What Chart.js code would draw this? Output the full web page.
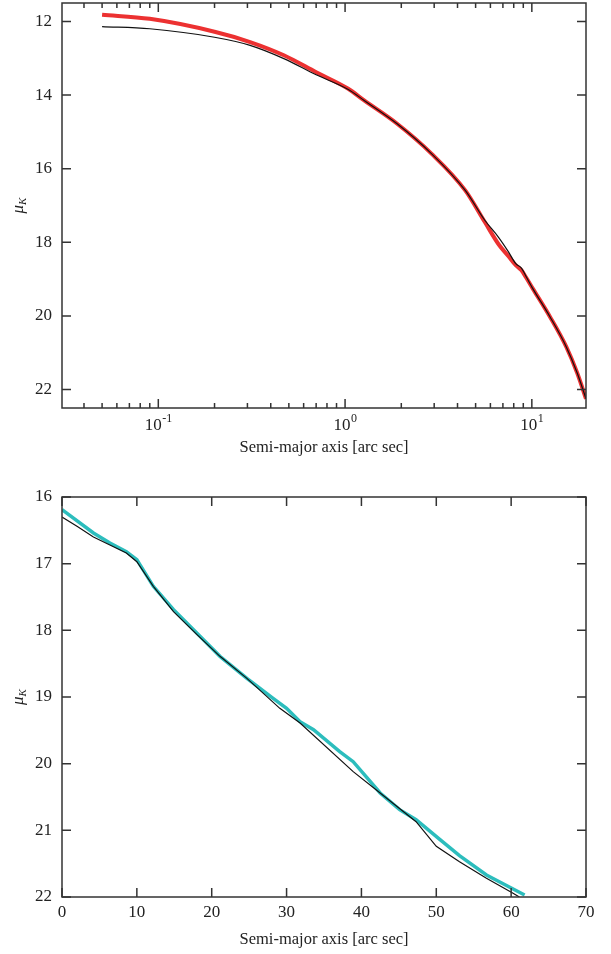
<!DOCTYPE html>
<html>
<head>
<meta charset="utf-8">
<script src="https://cdn.jsdelivr.net/npm/chart.js@4.4.0/dist/chart.umd.min.js"></script>
<style>
  body { margin: 0; background: #fff; }
  .box { position: absolute; left: 0; width: 611px; }
</style>
</head>
<body>
<div class="box" style="top:0;height:470px"><canvas id="topChart"></canvas></div>
<div class="box" style="top:470px;height:484px"><canvas id="bottomChart"></canvas></div>
<script>
// top panel: log radius, observed (red) and model (black)
const topRadius = [0.05, 0.09, 0.2, 0.31, 0.47, 0.7, 1.04, 1.26, 1.9, 2.9, 4.4, 5.6, 6.65, 7.5, 8.2, 8.8, 9.3, 10.1, 12.5, 15.3, 17.5, 19.5];
const topObserved = [11.82, 11.93, 12.28, 12.56, 12.92, 13.38, 13.83, 14.14, 14.78, 15.59, 16.59, 17.45, 18.06, 18.38, 18.62, 18.76, 18.95, 19.25, 20.02, 20.84, 21.55, 22.25];
const topModel = [12.14, 12.2, 12.43, 12.65, 13.01, 13.45, 13.85, 14.14, 14.78, 15.59, 16.59, 17.4, 17.87, 18.26, 18.58, 18.7, 18.92, 19.25, 20.02, 20.84, 21.55, 22.25];

// bottom panel: linear radius, observed (cyan) and model (black)
const botRadiusObs = [0, 4.2, 6.4, 8.6, 10, 12.2, 14.9, 18, 21.1, 24.7, 28.2, 30, 31.8, 33.6, 37.1, 38.9, 42.5, 45.1, 47.3, 50.5, 53.1, 56.7, 61.8];
const botObserved = [16.19, 16.54, 16.69, 16.82, 16.94, 17.34, 17.69, 18.04, 18.39, 18.72, 19.02, 19.17, 19.37, 19.49, 19.82, 19.97, 20.44, 20.69, 20.84, 21.14, 21.38, 21.67, 21.97];
const botRadiusMod = [0, 2, 4.2, 8.6, 10, 12.2, 14.9, 18, 21.1, 24.7, 29.1, 31.8, 38.9, 42.5, 47.3, 50, 53.1, 56.7, 60.2, 61.1];
const botModel = [16.3, 16.44, 16.6, 16.84, 16.97, 17.34, 17.72, 18.06, 18.39, 18.72, 19.17, 19.39, 20.12, 20.44, 20.87, 21.24, 21.47, 21.72, 21.94, 22.0];

// tick labels
const topYTicks = [12, 14, 16, 18, 20, 22];
const topXMajor = [0.1, 1, 10];
const topXLabels = ['-1', '0', '1'];
const botYTicks = [16, 17, 18, 19, 20, 21, 22];
const botXTicks = [0, 10, 20, 30, 40, 50, 60, 70];
const xTitle = 'Semi-major axis [arc sec]';

const SERIF = '"Liberation Serif", "DejaVu Serif", serif';
const FRAME = '#333';

function pts(xs, ys) {
  return xs.map((x, i) => ({ x: x, y: ys[i] }));
}

// minor ticks for the log axis, 2..9 of each decade inside the range
function logMinor(min, max) {
  let out = [];
  for (let d = -2; d <= 1; d++) {
    for (let m = 2; m <= 9; m++) {
      let v = m * Math.pow(10, d);
      if (v > min && v < max) out.push(v);
    }
  }
  return out;
}

const framePlugin = {
  id: 'frame',
  afterDraw(chart, args, o) {
    const ctx = chart.ctx;
    const a = chart.chartArea;
    const xs = chart.scales.x, ys = chart.scales.y;
    ctx.save();
    ctx.strokeStyle = FRAME;
    ctx.lineWidth = 1.5;
    ctx.strokeRect(a.left, a.top, a.right - a.left, a.bottom - a.top);

    ctx.beginPath();
    o.yTicks.forEach(v => { //inward ticks on both sides
      let py = ys.getPixelForValue(v);
      ctx.moveTo(a.left, py); ctx.lineTo(a.left + 9, py);
      ctx.moveTo(a.right, py); ctx.lineTo(a.right - 9, py);
    });
    o.xMajor.forEach(v => {
      let px = xs.getPixelForValue(v);
      ctx.moveTo(px, a.top); ctx.lineTo(px, a.top + 9);
      ctx.moveTo(px, a.bottom); ctx.lineTo(px, a.bottom - 9);
    });
    (o.xMinor || []).forEach(v => {
      let px = xs.getPixelForValue(v);
      ctx.moveTo(px, a.top); ctx.lineTo(px, a.top + 5);
      ctx.moveTo(px, a.bottom); ctx.lineTo(px, a.bottom - 5);
    });
    ctx.stroke();

    ctx.fillStyle = '#222';
    ctx.font = '17px ' + SERIF;
    ctx.textAlign = 'right';
    ctx.textBaseline = 'middle';
    o.yTicks.forEach(v => {
      ctx.fillText(String(v), a.left - 10, ys.getPixelForValue(v));
    });

    ctx.textBaseline = 'middle';
    o.xMajor.forEach((v, i) => {
      let px = xs.getPixelForValue(v);
      let ly = a.bottom + o.labelGap;
      if (o.sup) { // 10 with superscript exponent
        ctx.font = '17px ' + SERIF;
        let w1 = ctx.measureText('10').width;
        ctx.font = '12px ' + SERIF;
        let w2 = ctx.measureText(o.sup[i]).width;
        let x0 = px - (w1 + w2) / 2;
        ctx.textAlign = 'left';
        ctx.font = '17px ' + SERIF;
        ctx.fillText('10', x0, ly);
        ctx.font = '12px ' + SERIF;
        ctx.fillText(o.sup[i], x0 + w1 + 0.5, ly - 7);
      } else {
        ctx.textAlign = 'center';
        ctx.font = '17px ' + SERIF;
        ctx.fillText(String(v), px, ly);
      }
    });

    ctx.textAlign = 'center';
    ctx.font = '16.5px ' + SERIF;
    ctx.fillText(xTitle, (a.left + a.right) / 2, a.bottom + o.titleGap);

    // y title: italic mu with subscript K, rotated
    ctx.translate(19, (a.top + a.bottom) / 2);
    ctx.rotate(-Math.PI / 2);
    ctx.font = 'italic 17px ' + SERIF;
    let wm = ctx.measureText('\u03BC').width;
    ctx.font = 'italic 11px ' + SERIF;
    let wk = ctx.measureText('K').width;
    ctx.textAlign = 'left';
    ctx.font = 'italic 17px ' + SERIF;
    ctx.fillText('\u03BC', -(wm + wk) / 2, 0);
    ctx.font = 'italic 11px ' + SERIF;
    ctx.fillText('K', -(wm + wk) / 2 + wm, 4);
    ctx.restore();
  }
};

function makeChart(id, cfg) {
  return new Chart(document.getElementById(id), {
    type: 'line',
    data: { datasets: cfg.datasets },
    options: {
      responsive: true,
      maintainAspectRatio: false,
      animation: false,
      events: [],
      layout: { padding: cfg.padding },
      elements: { point: { radius: 0 } },
      plugins: {
        legend: { display: false },
        tooltip: { enabled: false },
        frame: cfg.frame
      },
      scales: {
        x: Object.assign({ display: false }, cfg.x),
        y: { display: false, reverse: true, min: cfg.yMin, max: cfg.yMax }
      }
    },
    plugins: [framePlugin]
  });
}

makeChart('topChart', {
  padding: { left: 62, right: 25, top: 3, bottom: 62 },
  x: { type: 'logarithmic', min: 0.0305, max: 19.5 },
  yMin: 11.5, yMax: 22.5,
  datasets: [
    { data: pts(topRadius, topModel), borderColor: '#111', borderWidth: 1.2, cubicInterpolationMode: 'monotone' },
    { data: pts(topRadius, topObserved), borderColor: '#ec3131', borderWidth: 4, cubicInterpolationMode: 'monotone' }
  ],
  frame: { yTicks: topYTicks, xMajor: topXMajor, xMinor: logMinor(0.0305, 19.5), sup: topXLabels, labelGap: 18, titleGap: 40 }
});

makeChart('bottomChart', {
  padding: { left: 62, right: 25, top: 27, bottom: 57 },
  x: { type: 'linear', min: 0, max: 70 },
  yMin: 16, yMax: 22,
  datasets: [
    { data: pts(botRadiusMod, botModel), borderColor: '#111', borderWidth: 1.2, tension: 0 },
    { data: pts(botRadiusObs, botObserved), borderColor: '#2cbdbd', borderWidth: 3.5, tension: 0 }
  ],
  frame: { yTicks: botYTicks, xMajor: botXTicks, labelGap: 16, titleGap: 43 }
});
</script>
</body>
</html>
